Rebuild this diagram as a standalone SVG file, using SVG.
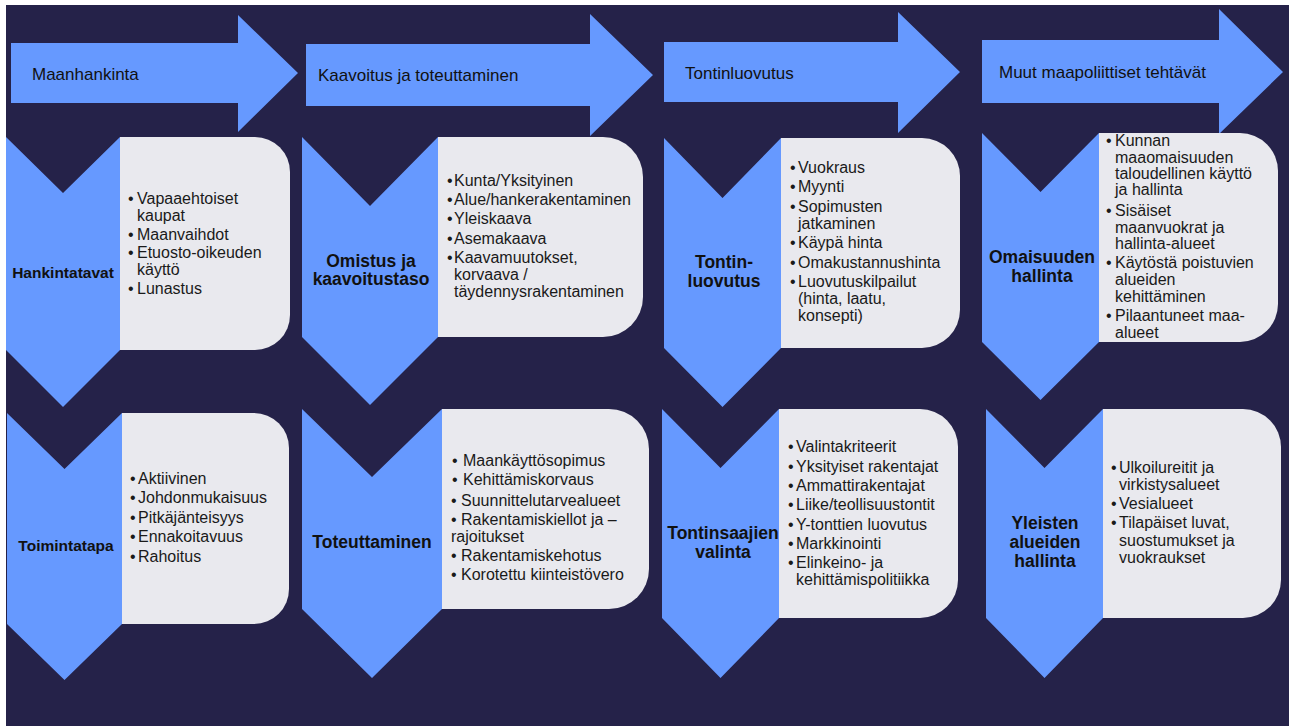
<svg xmlns="http://www.w3.org/2000/svg" width="1289" height="726" viewBox="0 0 1289 726">
  <style>
    .bg { fill: #252249; }
    .arrow { fill: #6699FF; }
    .chev { fill: #6699FF; }
    .box { fill: #E9E9EE; }
    .head { font-family: "Liberation Sans", Arial, sans-serif; font-size: 17px; fill: #111; }
    .lbl { font-family: "Liberation Sans", Arial, sans-serif; font-weight: bold; font-size: 17.5px; fill: #111; text-anchor: middle; }
    .lbl.s { font-size: 15.5px; }
    .item { font-family: "Liberation Sans", Arial, sans-serif; font-size: 16px; fill: #1a1a1a; }
  </style>

  <rect width="1289" height="726" fill="#ffffff"/>
  <rect class="bg" x="6" y="5" width="1283" height="721"/>

  <!-- process arrows along the top -->
  <g id="phase-maanhankinta">
    <path class="arrow" d="M11 43 H238 V15 L298 73 L238 132 V103 H11 Z"/>
    <text class="head" x="32" y="80">Maanhankinta</text>
  </g>
  <g id="phase-kaavoitus">
    <path class="arrow" d="M306 44 H590 V14 L653 75 L590 136 V106 H306 Z"/>
    <text class="head" x="318" y="81">Kaavoitus ja toteuttaminen</text>
  </g>
  <g id="phase-tontinluovutus">
    <path class="arrow" d="M664 42 H898 V12 L960 72 L898 133 V102 H664 Z"/>
    <text class="head" x="685" y="79">Tontinluovutus</text>
  </g>
  <g id="phase-muut">
    <path class="arrow" d="M982 40 H1219 V9 L1283 72 L1219 134 V103 H982 Z"/>
    <text class="head" x="999" y="78">Muut maapoliittiset tehtävät</text>
  </g>

  <!-- column 1 -->
  <g id="hankintatavat">
    <path class="box" d="M120 137 H255 A35 35 0 0 1 290 172 V315 A35 35 0 0 1 255 350 H120 Z"/>
    <path class="chev" d="M6 137 L63 193 L120 137 V350 L63 407 L6 350 Z"/>
    <text class="lbl s" x="63" y="278">Hankintatavat</text>
    <g class="item">
      <text x="128" y="204">•</text><text x="137" y="204">Vapaaehtoiset</text>
      <text x="137" y="221">kaupat</text>
      <text x="128" y="240">•</text><text x="137" y="240">Maanvaihdot</text>
      <text x="128" y="258">•</text><text x="137" y="258">Etuosto-oikeuden</text>
      <text x="137" y="275">käyttö</text>
      <text x="128" y="294">•</text><text x="137" y="294">Lunastus</text>
    </g>
  </g>
  <g id="toimintatapa">
    <path class="box" d="M122 413 H254 A35 35 0 0 1 289 448 V589 A35 35 0 0 1 254 624 H122 Z"/>
    <path class="chev" d="M7 413 L64.5 469 L122 413 V624 L64.5 680 L7 624 Z"/>
    <text class="lbl s" x="66" y="551">Toimintatapa</text>
    <g class="item">
      <text x="130" y="484">•</text><text x="138" y="484">Aktiivinen</text>
      <text x="130" y="503">•</text><text x="138" y="503">Johdonmukaisuus</text>
      <text x="130" y="523">•</text><text x="138" y="523">Pitkäjänteisyys</text>
      <text x="130" y="542">•</text><text x="138" y="542">Ennakoitavuus</text>
      <text x="130" y="562">•</text><text x="138" y="562">Rahoitus</text>
    </g>
  </g>

  <!-- column 2 -->
  <g id="omistus">
    <path class="box" d="M438 137 H603 A40 40 0 0 1 643 177 V297 A40 40 0 0 1 603 337 H438 Z"/>
    <path class="chev" d="M302 137 L370 206 L438 137 V337 L370 405 L302 337 Z"/>
    <text class="lbl" x="371" y="267">Omistus ja</text>
    <text class="lbl" x="371" y="285">kaavoitustaso</text>
    <g class="item">
      <text x="447" y="186">•</text><text x="454" y="186">Kunta/Yksityinen</text>
      <text x="447" y="205">•</text><text x="454" y="205">Alue/hankerakentaminen</text>
      <text x="447" y="224">•</text><text x="454" y="224">Yleiskaava</text>
      <text x="447" y="244">•</text><text x="454" y="244">Asemakaava</text>
      <text x="447" y="263">•</text><text x="454" y="263">Kaavamuutokset,</text>
      <text x="454" y="280">korvaava /</text>
      <text x="454" y="297">täydennysrakentaminen</text>
    </g>
  </g>
  <g id="toteuttaminen">
    <path class="box" d="M442 409 H609 A40 40 0 0 1 649 449 V569 A40 40 0 0 1 609 609 H442 Z"/>
    <path class="chev" d="M302 409 L372 477 L442 409 V609 L372 678 L302 609 Z"/>
    <text class="lbl" x="372" y="548">Toteuttaminen</text>
    <g class="item">
      <text x="452" y="466">•</text><text x="463" y="466">Maankäyttösopimus</text>
      <text x="452" y="485">•</text><text x="463" y="485">Kehittämiskorvaus</text>
      <text x="451" y="506">• Suunnittelutarvealueet</text>
      <text x="451" y="525">• Rakentamiskiellot ja –</text>
      <text x="451" y="542">rajoitukset</text>
      <text x="451" y="561">• Rakentamiskehotus</text>
      <text x="451" y="580">• Korotettu kiinteistövero</text>
    </g>
  </g>

  <!-- column 3 -->
  <g id="tontinluovutus">
    <path class="box" d="M781 138 H922 A38 38 0 0 1 960 176 V310 A38 38 0 0 1 922 348 H781 Z"/>
    <path class="chev" d="M664 138 L722.5 198 L781 138 V348 L722.5 407 L664 348 Z"/>
    <text class="lbl" x="724" y="268">Tontin-</text>
    <text class="lbl" x="724" y="287">luovutus</text>
    <g class="item">
      <text x="790" y="173">•</text><text x="798" y="173">Vuokraus</text>
      <text x="790" y="192">•</text><text x="798" y="192">Myynti</text>
      <text x="790" y="212">•</text><text x="798" y="212">Sopimusten</text>
      <text x="798" y="229">jatkaminen</text>
      <text x="790" y="248">•</text><text x="798" y="248">Käypä hinta</text>
      <text x="790" y="268">•</text><text x="798" y="268">Omakustannushinta</text>
      <text x="790" y="287">•</text><text x="798" y="287">Luovutuskilpailut</text>
      <text x="798" y="304">(hinta, laatu,</text>
      <text x="798" y="321">konsepti)</text>
    </g>
  </g>
  <g id="tontinsaajat">
    <path class="box" d="M779 409 H920 A38 38 0 0 1 958 447 V580 A38 38 0 0 1 920 618 H779 Z"/>
    <path class="chev" d="M662 409 L720.5 468 L779 409 V618 L720.5 678 L662 618 Z"/>
    <text class="lbl" x="723" y="539">Tontinsaajien</text>
    <text class="lbl" x="723" y="558">valinta</text>
    <g class="item">
      <text x="788" y="452">•</text><text x="796" y="452">Valintakriteerit</text>
      <text x="788" y="472">•</text><text x="796" y="472">Yksityiset rakentajat</text>
      <text x="788" y="491">•</text><text x="796" y="491">Ammattirakentajat</text>
      <text x="788" y="510">•</text><text x="796" y="510">Liike/teollisuustontit</text>
      <text x="788" y="530">•</text><text x="796" y="530">Y-tonttien luovutus</text>
      <text x="788" y="549">•</text><text x="796" y="549">Markkinointi</text>
      <text x="788" y="568">•</text><text x="796" y="568">Elinkeino- ja</text>
      <text x="796" y="585">kehittämispolitiikka</text>
    </g>
  </g>

  <!-- column 4 -->
  <g id="omaisuus">
    <path class="box" d="M1099 133 H1240 A38 38 0 0 1 1278 171 V304 A38 38 0 0 1 1240 342 H1099 Z"/>
    <path class="chev" d="M982 133 L1040.5 192 L1099 133 V342 L1040.5 400 L982 342 Z"/>
    <text class="lbl" x="1042" y="263">Omaisuuden</text>
    <text class="lbl" x="1042" y="282">hallinta</text>
    <g class="item">
      <text x="1106" y="146">•</text><text x="1115" y="146">Kunnan</text>
      <text x="1115" y="163">maaomaisuuden</text>
      <text x="1115" y="179">taloudellinen käyttö</text>
      <text x="1115" y="195">ja hallinta</text>
      <text x="1106" y="216">•</text><text x="1115" y="216">Sisäiset</text>
      <text x="1115" y="233">maanvuokrat ja</text>
      <text x="1115" y="249">hallinta-alueet</text>
      <text x="1106" y="268">•</text><text x="1115" y="268">Käytöstä poistuvien</text>
      <text x="1115" y="285">alueiden</text>
      <text x="1115" y="302">kehittäminen</text>
      <text x="1106" y="321">•</text><text x="1115" y="321">Pilaantuneet maa-</text>
      <text x="1115" y="338">alueet</text>
    </g>
  </g>
  <g id="yleiset-alueet">
    <path class="box" d="M1103 409 H1243 A38 38 0 0 1 1281 447 V580 A38 38 0 0 1 1243 618 H1103 Z"/>
    <path class="chev" d="M986 409 L1044.5 468 L1103 409 V618 L1044.5 678 L986 618 Z"/>
    <text class="lbl" x="1045" y="529">Yleisten</text>
    <text class="lbl" x="1045" y="548">alueiden</text>
    <text class="lbl" x="1045" y="567">hallinta</text>
    <g class="item">
      <text x="1111" y="473">•</text><text x="1119" y="473">Ulkoilureitit ja</text>
      <text x="1119" y="490">virkistysalueet</text>
      <text x="1111" y="509">•</text><text x="1119" y="509">Vesialueet</text>
      <text x="1111" y="528">•</text><text x="1119" y="528">Tilapäiset luvat,</text>
      <text x="1119" y="546">suostumukset ja</text>
      <text x="1119" y="563">vuokraukset</text>
    </g>
  </g>
</svg>
